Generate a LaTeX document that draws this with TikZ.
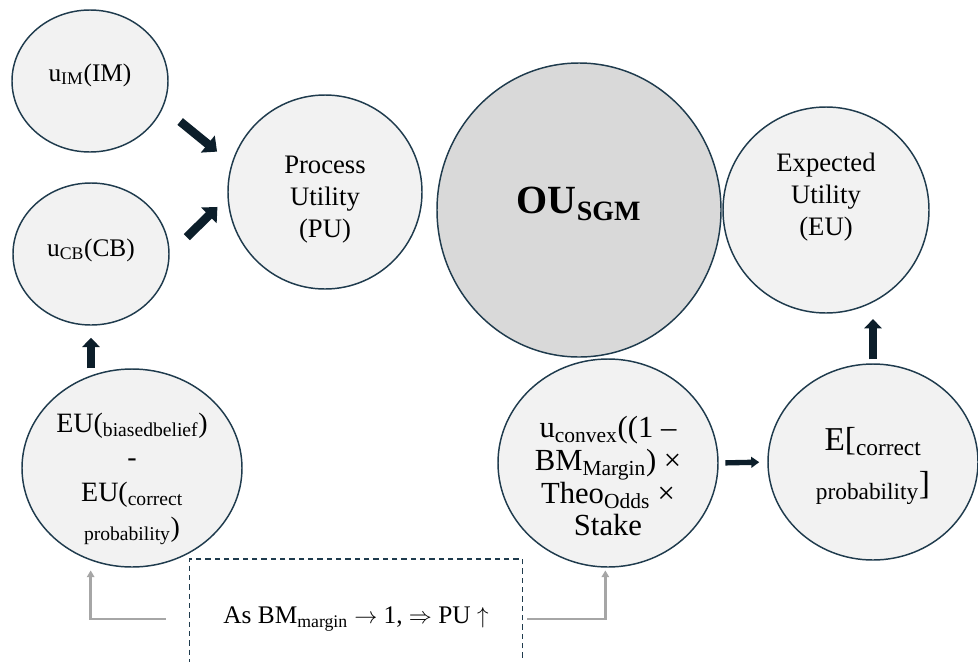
\documentclass[tikz,border=0pt]{standalone}
\usepackage{fontspec}
\setmainfont{Liberation Serif}
\usetikzlibrary{shapes.geometric,arrows.meta,positioning}

\definecolor{rimblue}{HTML}{1F3B4D}
\definecolor{arrowdark}{HTML}{0C1E2A}
\definecolor{bubblefill}{HTML}{F2F2F2}
\definecolor{corefill}{HTML}{D9D9D9}
\definecolor{linkgray}{HTML}{A6A6A6}

\tikzset{
  bubble/.style={ellipse, draw=rimblue, line width=1.1pt, fill=bubblefill,
    inner sep=0pt},
  bubble text/.style={align=center, inner sep=0pt, font=\fontsize{20}{24}\selectfont},
  fat arrow/.style={draw=arrowdark, line width=6.5pt,
    -{Triangle[length=9pt,width=16pt]}},
  thin arrow/.style={draw=arrowdark, line width=4pt,
    -{Triangle[length=6pt,width=8pt]}},
  link/.style={draw=linkgray, line width=1.8pt,
    -{Triangle[length=5pt,width=5.5pt]}},
  notebox/.style={draw=rimblue, dashed, line width=0.9pt,
    dash pattern=on 4pt off 3pt, align=center,
    font=\fontsize{19}{24}\selectfont}
}

\begin{document}
\begin{tikzpicture}[x=0.75pt, y=-0.75pt]

\clip (0,0) rectangle (978,661);

% upper row
\node [bubble, minimum width=117pt, minimum height=106.5pt] (util-im) at (90,81) {};
\node [bubble, minimum width=117pt, minimum height=106.5pt] (util-cb) at (91,254) {};
\node [bubble, minimum width=145.5pt, minimum height=145.5pt] (pu) at (325,192) {};
\node [bubble, fill=corefill, minimum width=213pt, minimum height=220.5pt] (ou) at (579,210) {};
\node [bubble, minimum width=154.5pt, minimum height=154.5pt] (eu) at (826,210) {};

% lower row
\node [bubble, minimum width=165pt, minimum height=148.5pt] (ebias) at (132,468) {};
\node [bubble, minimum width=165pt, minimum height=156pt] (uconv) at (608,463) {};
\node [bubble, minimum width=157.5pt, minimum height=147pt] (ecorr) at (873,462) {};

% texts
\node [bubble text, font=\fontsize{19}{24}\selectfont] (im-text) at ([yshift=4.5pt]util-im) {u\textsubscript{IM}(IM)};
\node [bubble text, font=\fontsize{19}{24}\selectfont] (cb-text) at ([yshift=3pt]util-cb) {u\textsubscript{CB}(CB)};
\node [bubble text] (pu-text) at ([yshift=-6pt]pu) {Process\\Utility\\(PU)};
\node [bubble text, font=\fontsize{30}{36}\selectfont\bfseries] (ou-text) at ([yshift=4.5pt]ou) {OU\textsubscript{SGM}};
\node [bubble text] (eu-text) at ([yshift=9.75pt]eu) {Expected\\Utility\\(EU)};
\node [bubble text, font=\fontsize{21}{26}\selectfont] (ebias-text) at ([yshift=-8pt]ebias)
  {EU(\textsubscript{biasedbelief})\\-\\EU(\textsubscript{correct}\\\textsubscript{probability})};
\node [bubble text, font=\fontsize{23}{24.5}\selectfont] (uconv-text) at ([yshift=-10pt]uconv)
  {u\textsubscript{convex}((1 --\\BM\textsubscript{Margin}) ×\\Theo\textsubscript{Odds} ×\\Stake};
\node [bubble text, font=\fontsize{25}{33}\selectfont] (ecorr-text) at ([yshift=-3pt]ecorr)
  {E[\textsubscript{correct}\\\textsubscript{probability}]};

\node [notebox, minimum width=250pt, minimum height=90pt] (note) at (356,619)
  {As BM\textsubscript{margin} $\rightarrow$ 1, $\Rightarrow$ PU $\uparrow$};

% block arrows
\draw [fat arrow, shorten <=16.5pt, shorten >=14pt] (util-im.-20) -- (pu.163);
\draw [fat arrow, shorten <=18pt, shorten >=10.5pt] (util-cb.east) -- (pu.183);
\draw [fat arrow, line width=5.5pt, -{Triangle[length=7pt,width=13pt]}, shorten >=9pt]
  (util-cb.south |- ebias.north) -- (util-cb.south);
\draw [fat arrow, line width=5.5pt, -{Triangle[length=7pt,width=13pt]}, shorten <=3pt, shorten >=4pt]
  (ecorr.north) -- (ecorr.north |- eu.south);
\draw [thin arrow, shorten <=5pt, shorten >=6pt] (uconv.east) -- (ecorr.west);

% grey feedback lines
\draw [link, shorten <=17pt, shorten >=2pt] (note.west) -| ([xshift=-31pt]ebias.south);
\draw [link, shorten <=3pt, shorten >=2pt] (note.east) -| ([xshift=-2pt]uconv.south);

\end{tikzpicture}
\end{document}
